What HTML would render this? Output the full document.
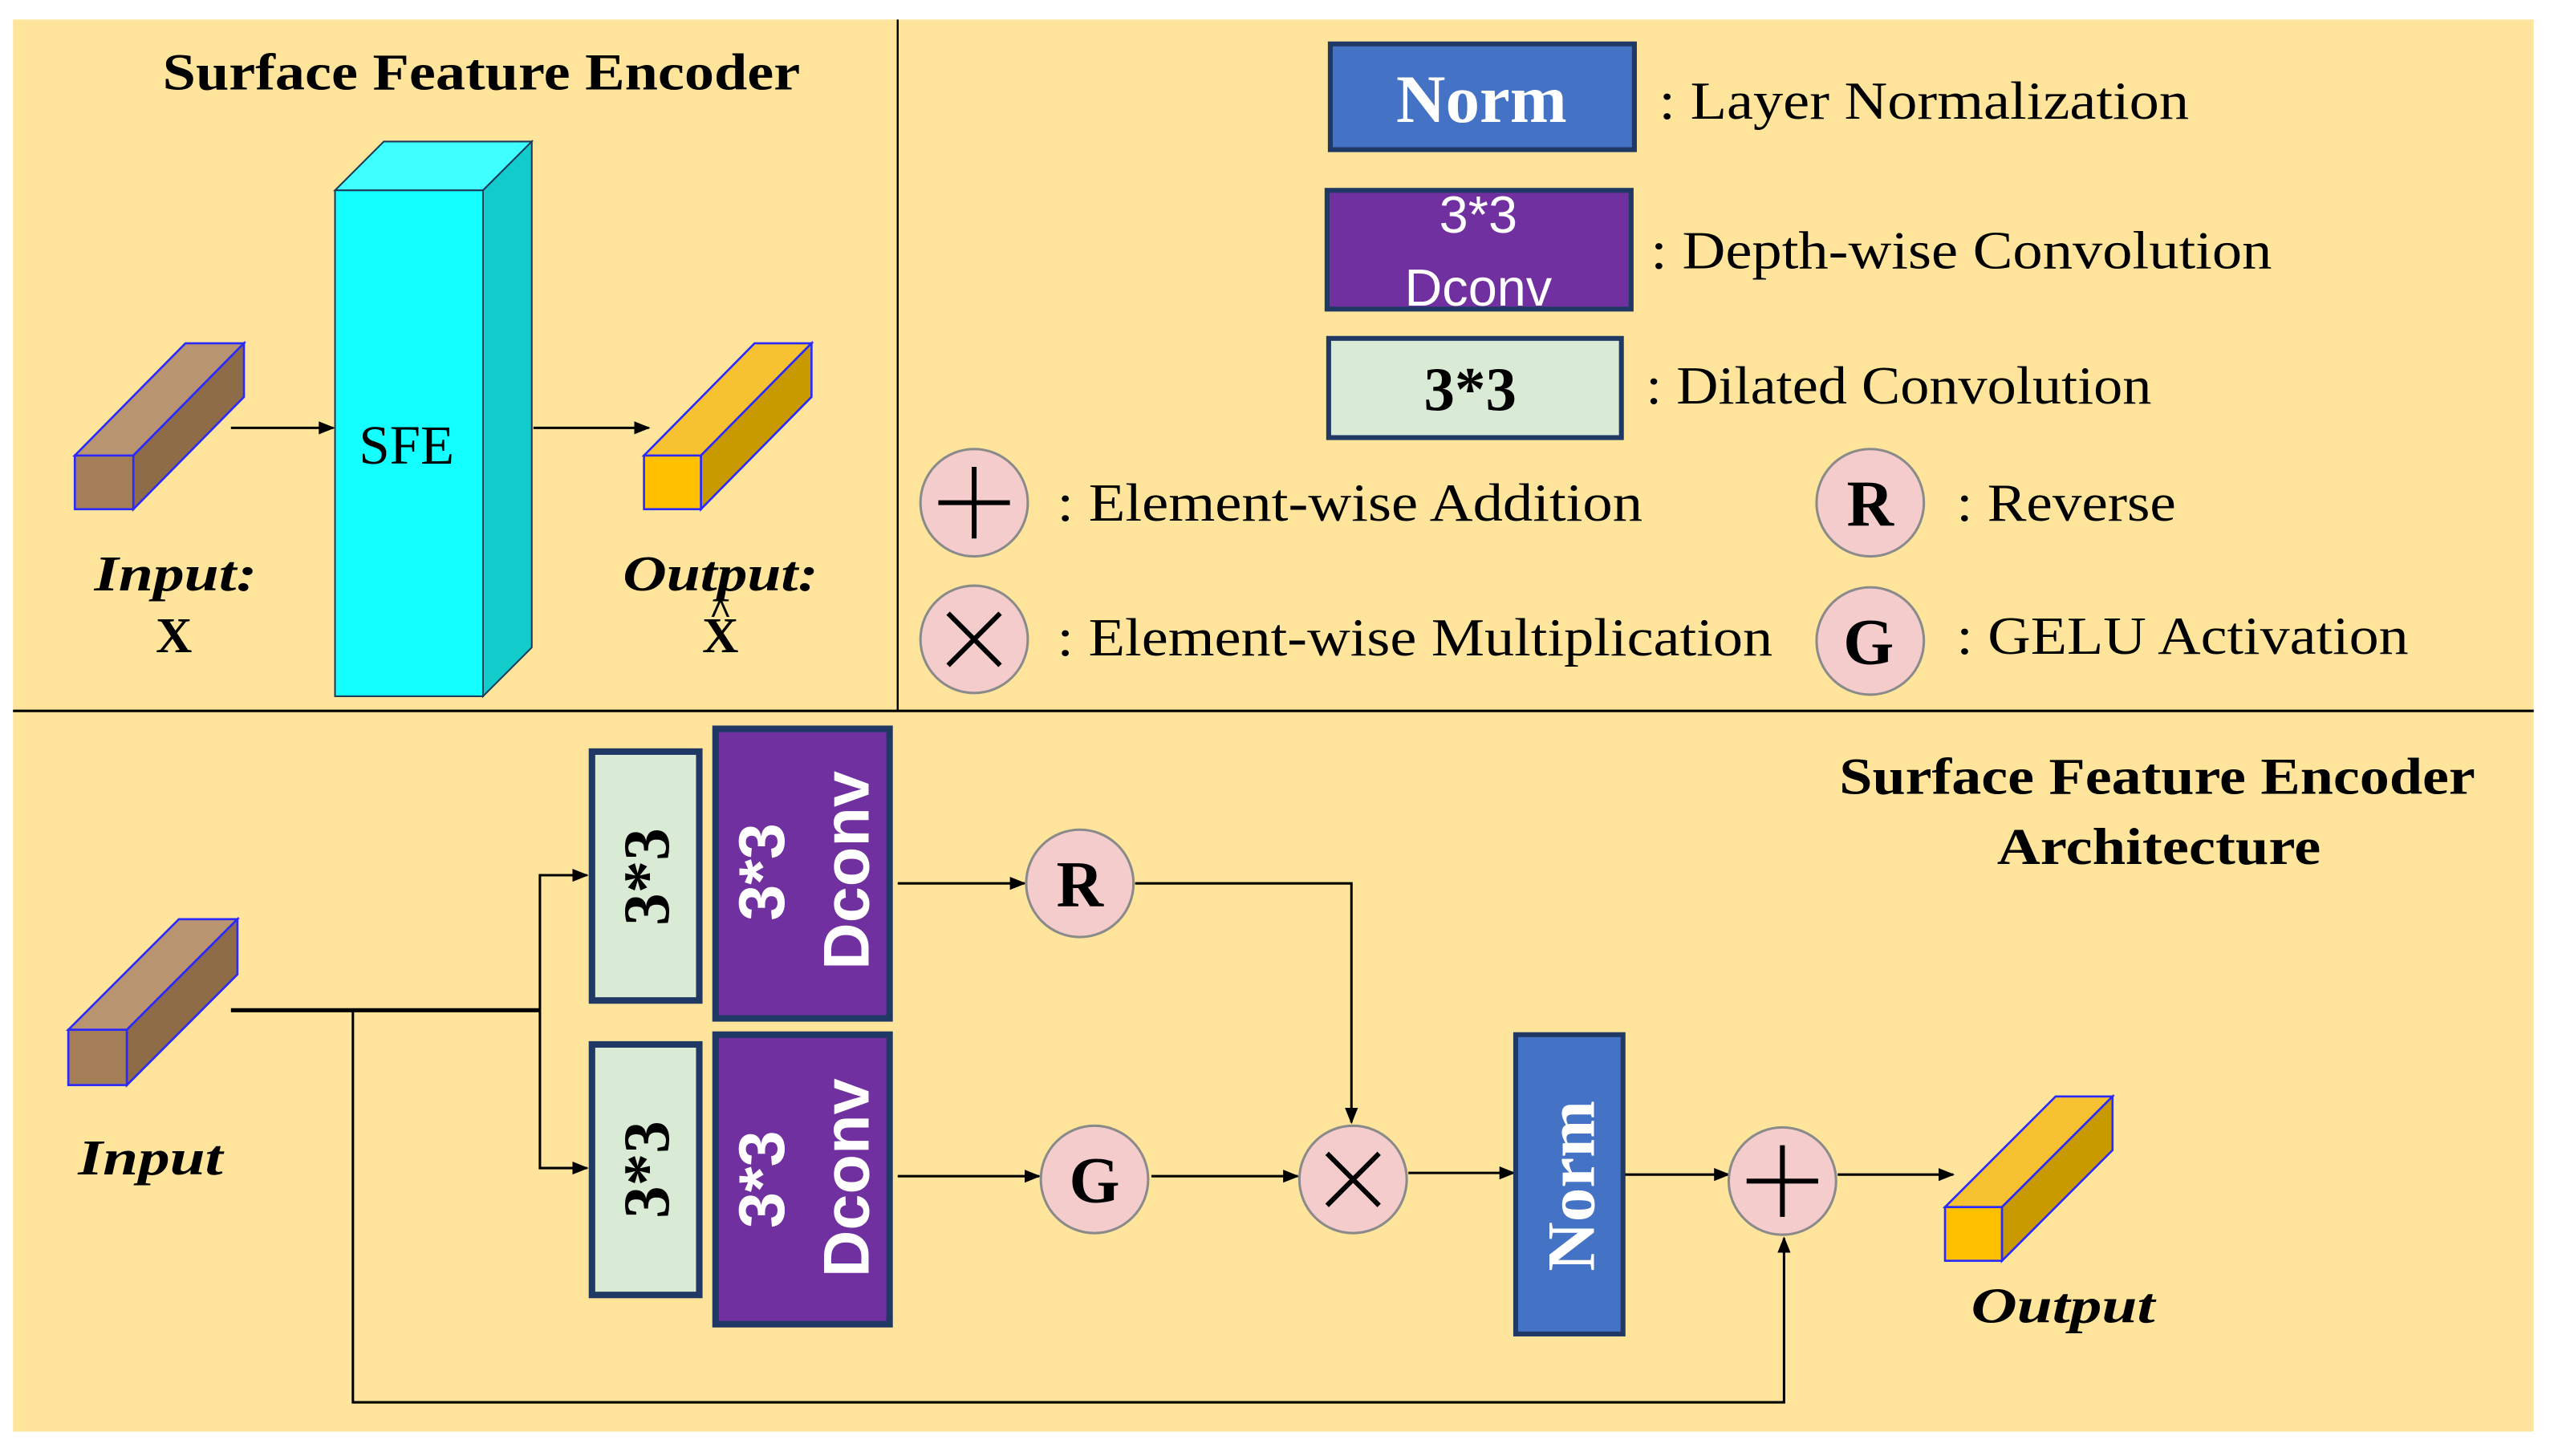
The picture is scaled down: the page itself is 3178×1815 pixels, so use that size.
<!DOCTYPE html>
<html><head><meta charset="utf-8"><style>html,body{margin:0;padding:0;background:#fff}svg{display:block}</style></head>
<body>
<svg width="3178" height="1815" viewBox="0 0 1568 895" preserveAspectRatio="none" xmlns="http://www.w3.org/2000/svg">
<defs>
<marker id="a" markerWidth="10" markerHeight="10" refX="9" refY="5" orient="auto" markerUnits="userSpaceOnUse"><path d="M0,1 L10,5 L0,9 z" fill="#000"/></marker>
</defs>
<rect x="0" y="0" width="1568" height="895" fill="#fff"/>
<rect x="8" y="12" width="1550" height="868" fill="#FEE59B"/>
<line x1="8" y1="437" x2="1558" y2="437" stroke="#000" stroke-width="1.5"/>
<line x1="552" y1="12" x2="552" y2="437" stroke="#000" stroke-width="1.2"/>
<g font-family="Liberation Serif, serif" fill="#000">
<text x="100" y="55" font-size="32" font-weight="bold" textLength="392" lengthAdjust="spacingAndGlyphs">Surface Feature Encoder</text>
<polygon points="206,117 236,87 327,87 297,117" fill="#3FFFFF" stroke="#1b3a5a" stroke-width="1"/>
<polygon points="297,117 327,87 327,398 297,428" fill="#12CCCC" stroke="#1b3a5a" stroke-width="1"/>
<rect x="206" y="117" width="91" height="311" fill="#14FFFF" stroke="#1b3a5a" stroke-width="1"/>
<text x="250" y="285" font-size="34" text-anchor="middle" font-family="Liberation Serif, serif">SFE</text>
<polygon points="46,280 114,211 150,211 82,280" fill="#B89470" stroke="#2a2aff" stroke-width="1.3"/>
<polygon points="82,280 150,211 150,244 82,313" fill="#8E6C48" stroke="#2a2aff" stroke-width="1.3"/>
<rect x="46" y="280" width="36" height="33" fill="#A47E57" stroke="#2a2aff" stroke-width="1.3"/>
<line x1="142" y1="263" x2="205" y2="263" stroke="#000" stroke-width="1.5" marker-end="url(#a)"/>
<line x1="328" y1="263" x2="399" y2="263" stroke="#000" stroke-width="1.5" marker-end="url(#a)"/>
<polygon points="396,280 464,211 499,211 431,280" fill="#F7C232" stroke="#2a2aff" stroke-width="1.3"/>
<polygon points="431,280 499,211 499,244 431,313" fill="#C99A00" stroke="#2a2aff" stroke-width="1.3"/>
<rect x="396" y="280" width="35" height="33" fill="#FFC000" stroke="#2a2aff" stroke-width="1.3"/>
<text x="58" y="363" font-size="31" font-weight="bold" font-style="italic" textLength="100" lengthAdjust="spacingAndGlyphs">Input:</text>
<text x="107" y="401" font-size="31" font-weight="bold" text-anchor="middle">X</text>
<text x="383" y="363" font-size="31" font-weight="bold" font-style="italic" textLength="120" lengthAdjust="spacingAndGlyphs">Output:</text>
<text x="443" y="401" font-size="31" font-weight="bold" text-anchor="middle">X</text>
<text x="443" y="384" font-size="24" font-weight="bold" text-anchor="middle">^</text>

<rect x="818" y="27" width="187" height="65" fill="#4472C4" stroke="#1F3864" stroke-width="3"/>
<text x="911" y="75" font-size="42" font-weight="bold" fill="#fff" text-anchor="middle">Norm</text>
<text x="1020" y="73" font-size="33" textLength="326" lengthAdjust="spacingAndGlyphs">: Layer Normalization</text>
<rect x="816" y="117" width="187" height="73" fill="#7030A0" stroke="#1F3864" stroke-width="3"/>
<g font-family="Liberation Sans, sans-serif" fill="#fff" font-size="32" text-anchor="middle">
<text x="909" y="143">3*3</text>
<text x="909" y="188">Dconv</text>
</g>
<text x="1015" y="165" font-size="33" textLength="382" lengthAdjust="spacingAndGlyphs">: Depth-wise Convolution</text>
<rect x="817" y="208" width="180" height="61" fill="#DAEBD5" stroke="#1F3864" stroke-width="3"/>
<text x="904" y="252" font-size="38" font-weight="bold" text-anchor="middle">3*3</text>
<text x="1012" y="248" font-size="33" textLength="311" lengthAdjust="spacingAndGlyphs">: Dilated Convolution</text>

<g fill="#F4CCCC" stroke="#8a8a8a" stroke-width="1.5">
<circle cx="599" cy="309" r="33"/><circle cx="599" cy="393" r="33"/>
<circle cx="1150" cy="309" r="33"/><circle cx="1150" cy="394" r="33"/>
</g>
<path d="M599,287 V331 M577,309 H621" stroke="#000" stroke-width="3"/>
<path d="M583,377 L615,409 M615,377 L583,409" stroke="#000" stroke-width="3"/>
<text x="1150" y="323" font-size="40" font-weight="bold" text-anchor="middle">R</text>
<text x="1149" y="408" font-size="40" font-weight="bold" text-anchor="middle">G</text>
<text x="650" y="320" font-size="33" textLength="360" lengthAdjust="spacingAndGlyphs">: Element-wise Addition</text>
<text x="650" y="403" font-size="33" textLength="440" lengthAdjust="spacingAndGlyphs">: Element-wise Multiplication</text>
<text x="1203" y="320" font-size="33" textLength="135" lengthAdjust="spacingAndGlyphs">: Reverse</text>
<text x="1203" y="402" font-size="33" textLength="278" lengthAdjust="spacingAndGlyphs">: GELU Activation</text>

<text x="1131" y="488" font-size="32" font-weight="bold" textLength="391" lengthAdjust="spacingAndGlyphs">Surface Feature Encoder</text>
<text x="1228" y="531" font-size="32" font-weight="bold" textLength="199" lengthAdjust="spacingAndGlyphs">Architecture</text>
<polygon points="42,633 110,565 146,565 78,633" fill="#B89470" stroke="#2a2aff" stroke-width="1.3"/>
<polygon points="78,633 146,565 146,599 78,667" fill="#8E6C48" stroke="#2a2aff" stroke-width="1.3"/>
<rect x="42" y="633" width="36" height="34" fill="#A47E57" stroke="#2a2aff" stroke-width="1.3"/>
<text x="48" y="722" font-size="31" font-weight="bold" font-style="italic" textLength="89" lengthAdjust="spacingAndGlyphs">Input</text>

<path d="M142,621 H332" stroke="#000" stroke-width="2.5" fill="none"/>
<path d="M332,621 V538 H361" stroke="#000" stroke-width="1.5" fill="none" marker-end="url(#a)"/>
<path d="M332,621 V718 H361" stroke="#000" stroke-width="1.5" fill="none" marker-end="url(#a)"/>
<path d="M217,621 V862 H1097 V761" stroke="#000" stroke-width="1.5" fill="none" marker-end="url(#a)"/>

<g fill="#DAEBD5" stroke="#1F3864" stroke-width="4">
<rect x="364" y="462" width="66" height="153"/><rect x="364" y="642" width="66" height="154"/>
</g>
<g fill="#7030A0" stroke="#1F3864" stroke-width="4">
<rect x="440" y="448" width="107" height="178"/><rect x="440" y="636" width="107" height="178"/>
</g>
<text transform="translate(411,539) rotate(-90)" font-size="40" font-weight="bold" text-anchor="middle">3*3</text>
<text transform="translate(411,719) rotate(-90)" font-size="40" font-weight="bold" text-anchor="middle">3*3</text>
<g font-family="Liberation Sans, sans-serif" font-weight="bold" fill="#fff" font-size="40" text-anchor="middle">
<text transform="translate(482,536) rotate(-90)">3*3</text>
<text transform="translate(534,535) rotate(-90)">Dconv</text>
<text transform="translate(482,725) rotate(-90)">3*3</text>
<text transform="translate(534,724) rotate(-90)">Dconv</text>
</g>

<line x1="552" y1="543" x2="630" y2="543" stroke="#000" stroke-width="1.5" marker-end="url(#a)"/>
<path d="M698,543 H831 V690" stroke="#000" stroke-width="1.5" fill="none" marker-end="url(#a)"/>
<line x1="552" y1="723" x2="639" y2="723" stroke="#000" stroke-width="1.5" marker-end="url(#a)"/>
<line x1="708" y1="723" x2="798" y2="723" stroke="#000" stroke-width="1.5" marker-end="url(#a)"/>
<line x1="866" y1="721" x2="931" y2="721" stroke="#000" stroke-width="1.5" marker-end="url(#a)"/>
<line x1="998" y1="722" x2="1063" y2="722" stroke="#000" stroke-width="1.5" marker-end="url(#a)"/>
<line x1="1130" y1="722" x2="1201" y2="722" stroke="#000" stroke-width="1.5" marker-end="url(#a)"/>

<g fill="#F4CCCC" stroke="#8a8a8a" stroke-width="1.5">
<circle cx="664" cy="543" r="33"/><circle cx="673" cy="725" r="33"/>
<circle cx="832" cy="725" r="33"/><circle cx="1096" cy="726" r="33"/>
</g>
<text x="664" y="557" font-size="40" font-weight="bold" text-anchor="middle">R</text>
<text x="673" y="739" font-size="40" font-weight="bold" text-anchor="middle">G</text>
<path d="M816,709 L848,741 M848,709 L816,741" stroke="#000" stroke-width="3"/>
<path d="M1096,704 V748 M1074,726 H1118" stroke="#000" stroke-width="3"/>

<rect x="932" y="636" width="66" height="184" fill="#4472C4" stroke="#1F3864" stroke-width="3"/>
<text transform="translate(980,729) rotate(-90)" font-size="42" font-weight="bold" fill="#fff" text-anchor="middle">Norm</text>

<polygon points="1196,742 1264,674 1299,674 1231,742" fill="#F7C232" stroke="#2a2aff" stroke-width="1.3"/>
<polygon points="1231,742 1299,674 1299,707 1231,775" fill="#C99A00" stroke="#2a2aff" stroke-width="1.3"/>
<rect x="1196" y="742" width="35" height="33" fill="#FFC000" stroke="#2a2aff" stroke-width="1.3"/>
<text x="1212" y="813" font-size="31" font-weight="bold" font-style="italic" textLength="113" lengthAdjust="spacingAndGlyphs">Output</text>
</g>
</svg>
</body></html>
